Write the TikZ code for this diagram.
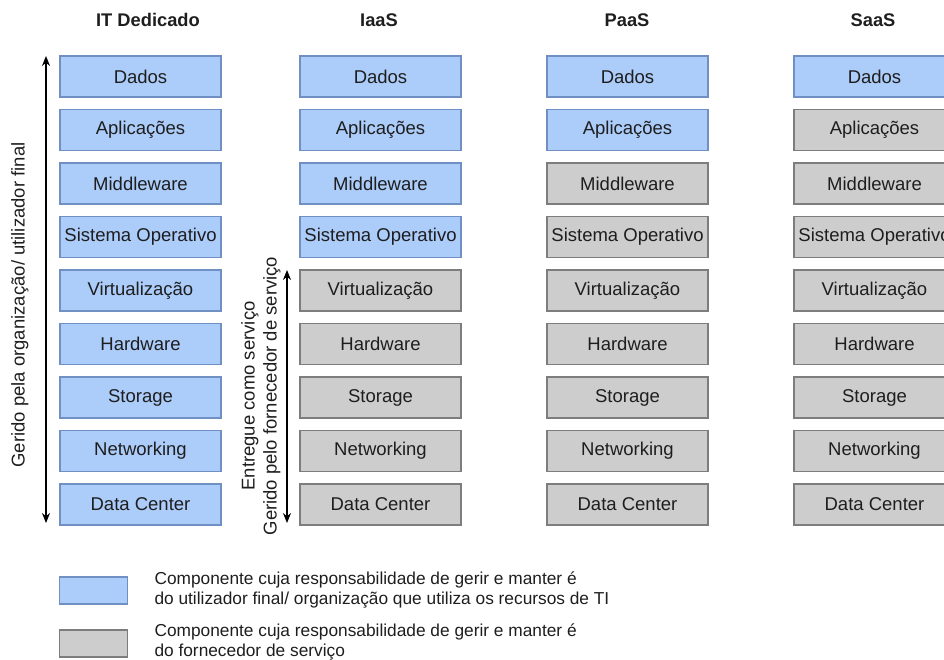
\documentclass[tikz,border=0pt]{standalone}
\usepackage{fontspec}
\setmainfont{Liberation Sans}
\usetikzlibrary{arrows.meta}
\definecolor{userfill}{RGB}{172,204,250}
\definecolor{userline}{RGB}{112,144,196}
\definecolor{provfill}{RGB}{205,205,205}
\definecolor{provline}{RGB}{125,125,125}
\definecolor{txt}{RGB}{30,30,30}
\tikzset{
  layer/.style={draw, line width=1.2pt, minimum width=161pt, minimum height=41pt,
    inner sep=0pt, font=\fontsize{18.5}{21}\selectfont, text=txt},
  usr/.style={layer, fill=userfill, draw=userline},
  prov/.style={layer, fill=provfill, draw=provline},
  colhead/.style={font=\bfseries\fontsize{18.3}{21}\selectfont, text=txt},
  sidelabel/.style={rotate=90, font=\fontsize{18.5}{22}\selectfont, text=txt, align=center},
  legendtext/.style={anchor=west, align=left, font=\fontsize{17.3}{20}\selectfont, text=txt},
  span/.style={line width=1.3pt, {Stealth[length=10pt,width=8pt]}-{Stealth[length=10pt,width=8pt]}}
}
\begin{document}
\begin{tikzpicture}[x=1pt, y=-1pt]
\useasboundingbox (0,0) rectangle (944,659);
\clip (0,0) rectangle (944,659);

% column headings
\node[colhead] (hIT) at (148,20) {IT Dedicado};
\node[colhead] (hI) at (379,20) {IaaS};
\node[colhead] (hP) at (627,20) {PaaS};
\node[colhead] (hS) at (873,20) {SaaS};

% layer names, top to bottom
\def\layers{Dados,Aplica\c{c}\~{o}es,Middleware,Sistema Operativo,Virtualiza\c{c}\~{a}o,Hardware,Storage,Networking,Data Center}

% stacks: column index, centre x, number of layers managed by the user
\foreach \col/\cx/\nuser in {A/140.5/9, B/380.5/4, C/627.5/2, D/874.5/1}{
  \foreach \name [count=\i from 0] in \layers{
    \pgfmathtruncatemacro{\isuser}{\i<\nuser ? 1 : 0}
    \ifnum\isuser=1
      \node[usr] (\col\i) at (\cx,{76.5+53.5*\i}) {\name};
    \else
      \node[prov] (\col\i) at (\cx,{76.5+53.5*\i}) {\name};
    \fi
  }
}

% span of the dedicated stack
\coordinate (itTop) at (46,56);
\coordinate (itBot) at (46,523);
\draw[span] (itBot) -- (itTop);
\node[sidelabel] (itLbl) at (20,305) {Gerido pela organiza\c{c}\~{a}o/ utilizador final};

% span delivered as a service in IaaS
\coordinate (iaTop) at (287,270);
\coordinate (iaBot) at (287,523);
\draw[span] (iaBot) -- (iaTop);
\node[sidelabel] (iaLbl) at (261,396) {Entregue como servi\c{c}o\\Gerido pelo fornecedor de servi\c{c}o};

% legend
\node[usr, minimum width=68pt, minimum height=27pt] (legU) at (93.5,590.5) {};
\node[prov, minimum width=68pt, minimum height=27pt] (legP) at (93.5,643.5) {};
\node[legendtext] (legUt) at (151,590) {Componente cuja responsabilidade de gerir e manter \'e\\do utilizador final/ organiza\c{c}\~{a}o que utiliza os recursos de TI};
\node[legendtext] (legPt) at (151,641.5) {Componente cuja responsabilidade de gerir e manter \'e\\do fornecedor de servi\c{c}o};
\end{tikzpicture}
\end{document}
